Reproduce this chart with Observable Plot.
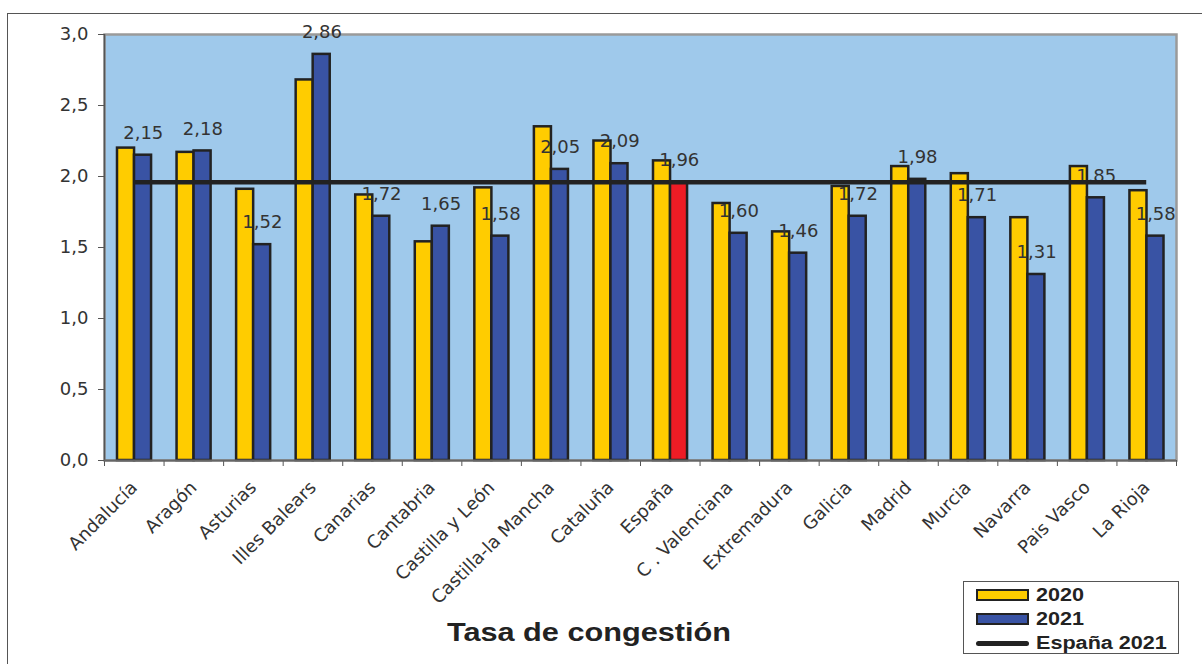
<!DOCTYPE html>
<html>
<head>
<meta charset="utf-8">
<script src="https://cdn.jsdelivr.net/npm/d3@7"></script>
<script src="https://cdn.jsdelivr.net/npm/@observablehq/plot@0.6"></script>
<style>
  html, body { margin: 0; padding: 0; background: #fff; overflow: hidden; }
  #wrap { position: relative; width: 1202px; height: 664px; }
  #chart { position: absolute; left: 0; top: 0; }
  #outer { position: absolute; left: 7px; top: 13px; width: 1300px; height: 700px;
           border-left: 1.5px solid #555; border-top: 1.5px solid #555; pointer-events: none; }
  #title { position: absolute; left: 389px; width: 400px; top: 617px; text-align: center;
           font-family: "Liberation Sans", Arial, sans-serif; font-weight: bold; font-size: 26px; color: #222;
           transform: scaleX(1.18); transform-origin: 200px 0; }
  #legend { position: absolute; left: 963px; top: 581px; width: 216px; height: 73px;
            border: 1px solid #555; background: #fff; box-sizing: border-box;
            font-family: "Liberation Sans", Arial, sans-serif; font-weight: bold; font-size: 18px; color: #222; }
  .row { position: absolute; left: 12px; height: 22px; display: flex; align-items: center; }
  .row span { display: inline-block; transform: scaleX(1.2); transform-origin: 0 50%; }
  .sw { width: 49px; height: 8px; border: 2px solid #222; margin-right: 7px; }
  .ln { width: 53px; height: 5px; background: #222; border-radius: 3px; margin-right: 7px; }
</style>
</head>
<body>
<div id="wrap">
  <div id="chart"></div>
  <div id="outer"></div>
  <div id="title">Tasa de congestión</div>
  <div id="legend"></div>
</div>
<script>
const regions = ["Andalucía", "Aragón", "Asturias", "Illes Balears", "Canarias", "Cantabria",
  "Castilla y León", "Castilla-la Mancha", "Cataluña", "España", "C . Valenciana", "Extremadura",
  "Galicia", "Madrid", "Murcia", "Navarra", "Pais Vasco", "La Rioja"];
const values2020 = [2.20, 2.17, 1.91, 2.68, 1.87, 1.54, 1.92, 2.35, 2.25, 2.11, 1.81, 1.61,
  1.93, 2.07, 2.02, 1.71, 2.07, 1.90];
const values2021 = [2.15, 2.18, 1.52, 2.86, 1.72, 1.65, 1.58, 2.05, 2.09, 1.96, 1.60, 1.46,
  1.72, 1.98, 1.71, 1.31, 1.85, 1.58];
const yTicks = [0, 0.5, 1.0, 1.5, 2.0, 2.5, 3.0];
const seriesNames = ["2020", "2021", "España 2021"];
const referenceRegion = "España";

const colors = { y2020: "#FFCC00", y2021: "#3953A4", spain: "#EE1C25", bg: "#9FC9EB", edge: "#222" };

const locale = d3.formatLocale({ decimal: ",", thousands: ".", grouping: [3], currency: ["", "€"] });
const fmt1 = locale.format(".1f");
const fmt2 = locale.format(".2f");

const data = regions.map((region, i) => ({ region, i, v2020: values2020[i], v2021: values2021[i] }));
const spainValue = values2021[regions.indexOf(referenceRegion)];

const chart = Plot.plot({
  width: 1202,
  height: 664,
  marginTop: 34,
  marginLeft: 104,
  marginRight: 26,
  marginBottom: 204,
  style: { fontFamily: "'DejaVu Sans', Verdana, sans-serif", fontSize: "18px", color: "#333", background: "transparent" },
  x: { domain: [0, regions.length], axis: null, label: null },
  y: { domain: [0, 3], axis: null, label: null },
  marks: [
    Plot.frame({ fill: colors.bg, stroke: "#9a9a9a", strokeWidth: 2.5 }),
    Plot.ruleX([0], { stroke: "#555", strokeWidth: 1.5 }),
    Plot.axisY({ ticks: yTicks, tickFormat: fmt1, tickSize: 6, tickPadding: 10, fontSize: 18, stroke: "#555", label: null }),
    Plot.axisX({ ticks: d3.range(regions.length + 1), tickFormat: () => "", tickSize: 6, stroke: "#555", label: null }),
    Plot.axisX({ ticks: data.map(d => d.i + 0.5), tickFormat: d => regions[Math.floor(d)], tickSize: 0,
                 tickPadding: 24, tickRotate: -45, fontSize: 18, label: null }),
    Plot.rectY(data, { x1: "i", x2: d => d.i + 1, y: "v2020", insetLeft: 13, insetRight: 29.5,
                       fill: colors.y2020, stroke: colors.edge, strokeWidth: 2.5 }),
    Plot.rectY(data, { x1: "i", x2: d => d.i + 1, y: "v2021", insetLeft: 30, insetRight: 12.5,
                       fill: d => d.region === referenceRegion ? colors.spain : colors.y2021,
                       stroke: colors.edge, strokeWidth: 2.5 }),
    Plot.ruleY([0], { stroke: "#666", strokeWidth: 2 }),
    Plot.text(data, { x: d => d.i + 0.5, y: "v2021", text: d => fmt2(d.v2021), dx: 9, dy: -22,
                      fontSize: 18, fill: "#333" }),
    Plot.ruleY([spainValue], { x1: data[0].i + 0.5, x2: data[data.length - 1].i + 0.5,
                               stroke: colors.edge, strokeWidth: 4.5 })
  ]
});
document.getElementById("chart").appendChild(chart);

const legend = document.getElementById("legend");
const swatches = [
  `<div class="sw" style="background:${colors.y2020}"></div>`,
  `<div class="sw" style="background:${colors.y2021}"></div>`,
  `<div class="ln"></div>`
];
seriesNames.forEach((name, k) => {
  const row = document.createElement("div");
  row.className = "row";
  row.style.top = (2 + k * 24) + "px";
  row.innerHTML = swatches[k] + `<span>${name}</span>`;
  legend.appendChild(row);
});
</script>
</body>
</html>
